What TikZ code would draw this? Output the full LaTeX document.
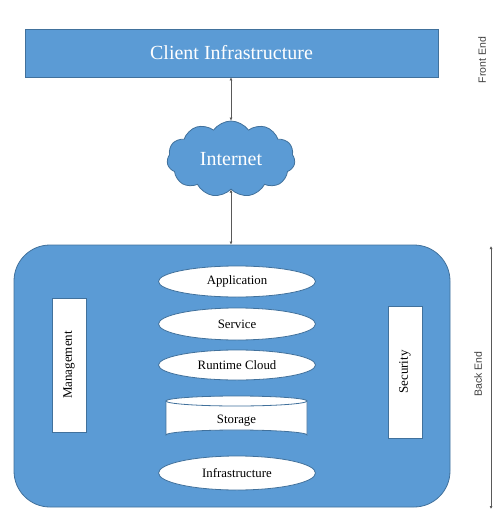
\documentclass[tikz,border=0pt]{standalone}
\usepackage{fontspec}
\setmainfont{Liberation Serif}
\setsansfont{Liberation Sans}
\usetikzlibrary{shapes.geometric,shapes.symbols,arrows.meta}
\definecolor{cblue}{HTML}{5B9BD5}
\definecolor{cedge}{HTML}{41719C}
\definecolor{cline}{HTML}{595959}
\tikzset{
  bluebox/.style={draw=cedge, fill=cblue, line width=0.8pt},
  oval/.style={ellipse, draw=cedge, fill=white, line width=0.8pt, minimum width=157pt, minimum height=31pt, inner sep=0pt, font=\fontsize{12.8}{14}\selectfont},
  sidebox/.style={draw=cedge, fill=white, line width=0.8pt, minimum width=34pt, inner sep=0pt},
  sidetext/.style={rotate=90, font=\fontsize{13}{14}\selectfont, inner sep=0pt},
  conn/.style={draw=cline, line width=0.8pt, {Latex[length=3pt,width=3pt]}-{Latex[length=3pt,width=3pt]}},
  endlabel/.style={font=\sffamily\fontsize{10.5}{12}\selectfont, text=black!75, rotate=90, inner sep=0pt}
}
\begin{document}
\begin{tikzpicture}[x=1pt,y=-1pt]
\useasboundingbox[fill=white] (0,0) rectangle (501,513);
% Client infrastructure
\node[bluebox, minimum width=413pt, minimum height=48pt, inner sep=0pt,
      text=white, font=\fontsize{20}{22}\selectfont] (client) at (231.5,53) {Client Infrastructure};
% Internet cloud
\node[cloud, cloud puffs=11, cloud puff arc=110, aspect=1.7, bluebox, minimum width=128pt, minimum height=76pt,
      inner sep=0pt, text=white, font=\fontsize{20}{22}\selectfont] (cloud) at (231,159) {Internet};
% Back end container
\node[bluebox, rounded corners=36pt, minimum width=436pt, minimum height=262pt, inner sep=0pt] (backend) at (232,376) {};
% Layers
\node[oval] (app) at (237,281.5) {Application};
\node[oval, minimum height=32pt] (svc) at (237,324) {Service};
\node[oval, minimum height=30pt] (run) at (237,365) {Runtime Cloud};
% Storage cylinder
\draw[cedge, line width=0.8pt, fill=white] (166,401) -- (166,435)
  arc[start angle=180, end angle=0, x radius=70.5pt, y radius=5pt] -- (307,401) -- cycle;
\draw[cedge, line width=0.8pt, fill=white] (236.5,401) ellipse[x radius=70.5pt, y radius=5pt];
\node[font=\fontsize{12.8}{14}\selectfont, inner sep=0pt] (sto) at (236.5,421) {Storage};
\node[oval, minimum height=34pt] (infra) at (237,473) {Infrastructure};
% Side boxes
\node[sidebox, minimum height=134pt] (mgmt) at (69,365) {};
\node[sidetext] (mgmtlabel) at (mgmt.center) {Management};
\node[sidebox, minimum height=132pt] (sec) at (405,372) {};
\node[sidetext] (seclabel) at (sec.center) {Security};
% Connectors
\draw[conn] (client.south -| cloud.north) -- (cloud.north);
\draw[conn] (cloud.south) -- (cloud.south |- backend.north);
% Front / back end labels
\node[endlabel] (front) at (482,60) {Front End};
\coordinate (betop) at (491,246);
\coordinate (bebot) at (491,509);
\draw[conn] (betop) -- (bebot);
\node[endlabel] (back) at (478,374) {Back End};
\end{tikzpicture}
\end{document}
